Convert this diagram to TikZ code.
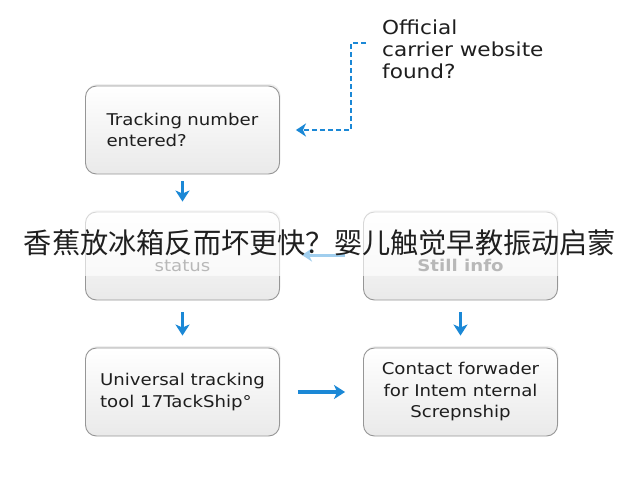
\documentclass[tikz,border=0pt]{standalone}
\usepackage{fontspec}
\setmainfont[FakeStretch=1.12]{DejaVu Sans}
\newfontfamily\cjk{Noto Sans CJK SC}
\usetikzlibrary{arrows.meta,shadows}
\definecolor{arrowblue}{RGB}{27,136,214}
\definecolor{fadeblue}{RGB}{160,206,238}
\definecolor{boxline}{RGB}{150,150,150}
\definecolor{txt}{RGB}{30,30,30}
\definecolor{midtxt}{RGB}{70,70,70}
\tikzset{
  flowbox/.style={draw=boxline, line width=0.9pt, rounded corners=11pt,
    top color=white, bottom color=gray!17, minimum width=194pt, minimum height=88pt,
    inner xsep=6pt, font=\fontsize{16.2}{21.5}\selectfont, text=txt,
    drop shadow={opacity=0.12, shadow xshift=1pt, shadow yshift=2pt}},
  blarrow/.style={draw=arrowblue, line width=3.2pt, -{Stealth[length=11pt,width=14pt,inset=3pt]}},
  fadearrow/.style={draw=fadeblue, line width=3pt, -{Stealth[length=10pt,width=13pt,inset=3pt]}},
  dotarrow/.style={draw=arrowblue, line width=2.8pt, dash pattern=on 5pt off 3pt,
    -{Stealth[length=10pt,width=13pt,inset=3pt]}},
  plaintext/.style={font=\fontsize{19.3}{22}\selectfont, text=txt, align=left}
}
\begin{document}
\begin{tikzpicture}[x=1pt,y=-1pt]
\useasboundingbox (0,0) rectangle (640,480);
\fill[white] (0,0) rectangle (640,480);
% boxes
\node[flowbox, inner xsep=21pt, text width=152pt, align=left] (b1) at (182.5,130) {Tracking number\\entered?};
\node[flowbox, align=center] (b2) at (182.5,256) {\phantom{x}\\[1pt]\textcolor{midtxt}{status}};
\node[flowbox, align=center] (b3) at (460.5,256) {\phantom{x}\\[1pt]\textcolor{midtxt}{\bfseries Still info}};
\node[flowbox, align=left] (b4) at (182.5,392) {Universal tracking\\tool 17TackShip°};
\node[flowbox, align=center] (b5) at (460.5,392) {Contact forwader\\for Intem nternal\\Screpnship};
% official text
\node[plaintext, anchor=north west, inner sep=0pt] (off) at (382,20) {Official\\carrier website\\found?};
% connectors
\draw[blarrow, shorten <=7pt, shorten >=10pt] (b1.south) -- (b2.north);
\draw[blarrow, shorten <=12pt, shorten >=12pt] (b2.south) -- (b4.north);
\draw[blarrow, shorten <=12pt, shorten >=12pt] (b3.south) -- (b5.north);
\draw[blarrow, shorten <=18pt, shorten >=18pt] (b4.east) -- (b5.west);
\coordinate (d0) at (366,43);
\coordinate (d1) at (351,43);
\draw[dotarrow, shorten >=16pt] (d0) -- (d1) |- (b1.east);
% overlay band
\fill[white, opacity=0.62] (0,206) rectangle (640,276);
\draw[fadearrow, shorten <=18pt, shorten >=22pt] ([yshift=1pt]b3.west) -- ([yshift=1pt]b2.east);
% headline
\node[font=\cjk\fontsize{28.2}{30}\selectfont, text=black!88, inner sep=0pt] (head) at (320,243) {香蕉放冰箱反而坏更快？婴儿触觉早教振动启蒙};
\end{tikzpicture}
\end{document}
